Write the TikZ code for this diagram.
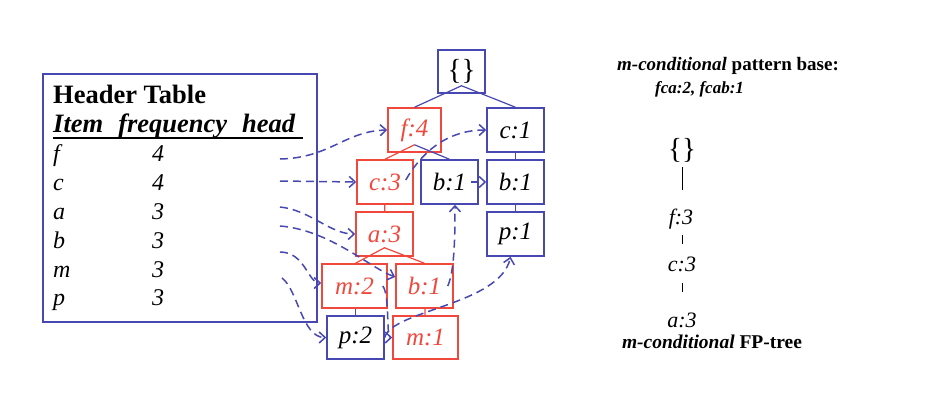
\documentclass[tikz,border=0pt]{standalone}
\usepackage{fontspec}
\setmainfont{Liberation Serif}
\usepackage{tikz}
\usetikzlibrary{arrows.meta}

\definecolor{treeblue}{RGB}{72,72,178}
\definecolor{treered}{RGB}{240,72,60}
\tikzset{
  bluebox/.style={draw=treeblue, line width=1.5pt, minimum width=57pt, minimum height=44pt,
    inner sep=0pt, font=\fontsize{25}{30}\selectfont\itshape},
  redbox/.style={bluebox, draw=treered, text=treered},
  blueedge/.style={treeblue, line width=1.2pt},
  rededge/.style={treered, line width=1.2pt},
  link/.style={-{Straight Barb[length=6pt, width=11pt]}, treeblue, line width=1.5pt, dash pattern=on 8pt off 5pt},
  rowtxt/.style={anchor=base west, inner sep=0pt, font=\fontsize{24}{28}\selectfont\itshape},
  condtxt/.style={anchor=base, inner sep=0pt, font=\fontsize{22}{26}\selectfont\itshape},
}

\begin{document}
\begin{tikzpicture}[x=1pt, y=-1pt]
        \useasboundingbox (0,0) rectangle (930,408);

        % 头表
        \node[draw=treeblue, line width=1.5pt, minimum width=274pt, minimum height=248pt] (htab) at (180,198) {};
        \node[anchor=base west, inner sep=0pt, font=\fontsize{26.5}{30}\selectfont\bfseries] (htitle) at (53,103) {Header Table};
        \node[anchor=base west, inner sep=0pt, font=\fontsize{26.5}{30}\selectfont\bfseries\itshape] (hcols) at (53,132) {Item\hspace{15pt}frequency\hspace{15pt}head};
        \draw[line width=2pt] ([yshift=-5.5pt]hcols.base west) -- ([yshift=-5.5pt, xshift=8pt]hcols.base east);
        \node[rowtxt] (it-f) at (53,161.5) {f};
        \node[rowtxt] (it-c) at (53,190.5) {c};
        \node[rowtxt] (it-a) at (53,219) {a};
        \node[rowtxt] (it-b) at (53,248) {b};
        \node[rowtxt] (it-m) at (53,277) {m};
        \node[rowtxt] (it-p) at (53,305.5) {p};
        \node[rowtxt] (fr-f) at (152,161.5) {4};
        \node[rowtxt] (fr-c) at (152,190.5) {4};
        \node[rowtxt] (fr-a) at (152,219) {3};
        \node[rowtxt] (fr-b) at (152,248) {3};
        \node[rowtxt] (fr-m) at (152,277) {3};
        \node[rowtxt] (fr-p) at (152,305.5) {3};
        \coordinate (hd-f) at (280,159);
        \coordinate (hd-c) at (280,181);
        \coordinate (hd-a) at (280,207);
        \coordinate (hd-b) at (280,226);
        \coordinate (hd-m) at (280,252);
        \coordinate (hd-p) at (282,278);

        % FP树
        \node[bluebox, minimum width=47pt, minimum height=43pt, font=\fontsize{29}{32}\selectfont] (root) at (461.5,71.5) {\{\}};
        \node[redbox, minimum width=53pt] (f4) at (414.5,130) {f:4};
        \node[bluebox] (c1) at (515.5,130) {c:1};
        \node[redbox, minimum width=56pt] (c3) at (385,182) {c:3};
        \node[bluebox] (b1) at (449.5,182) {b:1};
        \node[bluebox] (b1r) at (515.5,182) {b:1};
        \node[redbox] (a3) at (384.5,234) {a:3};
        \node[bluebox] (p1) at (515.5,234) {p:1};
        \node[redbox, minimum width=65pt] (m2) at (354.5,286) {m:2};
        \node[redbox] (b1red) at (424.5,286) {b:1};
        \node[bluebox, minimum height=43pt] (p2) at (355.5,337.5) {p:2};
        \node[redbox, minimum width=65pt, minimum height=43pt] (m1) at (425.5,337.5) {m:1};

        \draw[blueedge] (f4.north) -- ([yshift=8pt]root.south) -- (c1.north);
        \draw[rededge] (c3.north) -- ([yshift=8pt]f4.south);
        \draw[blueedge] ([yshift=8pt]f4.south) -- (b1.north);
        \draw[blueedge] (c1) -- (b1r);
        \draw[blueedge] (b1r) -- (p1);
        \draw[rededge] (c3) -- (a3);
        \draw[rededge] (m2.north -| p2.north) -- ([yshift=9pt]a3.south) -- (b1red.north);
        \draw[blueedge] (p2.north) -- (p2.north |- m2.south);
        \draw[rededge] (b1red) -- (m1);

        % 节点链
        \draw[link] (hd-f) .. controls (330,158) and (345,131) .. (f4.west);
        \draw[link] (hd-c) -- (c3.west);
        \draw[link] (hd-a) .. controls (310,210) and (330,234) .. (a3.west);
        \draw[link] (hd-b) .. controls (330,230) and (370,268) .. ([yshift=9pt]b1red.west);
        \draw[link] (hd-m) .. controls (305,252) and (308,283) .. ([yshift=3pt]m2.west);
        \draw[link] (hd-p) .. controls (298,290) and (302,337.5) .. (p2.west);
        \draw[link] ([xshift=-8pt, yshift=2pt]c3.east) .. controls (420,155) and (445,130) .. (c1.west);
        \draw[link] ([xshift=-8pt]b1.east) -- (b1r.west);
        \draw[link] ([xshift=-6pt]b1red.east) .. controls (455,270) and (455,230) .. ([xshift=5.5pt]b1.south);
        \draw[link] ([xshift=-5pt]m2.east) .. controls (390,295) and (386,337.5) .. (m1.west);
        \draw[link] (p2.east) .. controls (392,310) and (500,305) .. ([xshift=-5pt]p1.south);

        % 条件模式基与条件FP树
        \node[anchor=base, inner sep=0pt, font=\fontsize{19}{22}\selectfont\bfseries] (pbase) at (728,70) {\textit{m-conditional} pattern base:};
        \node[anchor=base west, inner sep=0pt, font=\fontsize{17}{22}\selectfont\bfseries\itshape] (pset) at (655,93) {fca:2, fcab:1};
        \node[inner sep=0pt, font=\fontsize{29}{32}\selectfont] (cnull) at (682,150) {\{\}};
        \node[condtxt] (cf) at (681,224) {f:3};
        \node[condtxt] (cc) at (682,271) {c:3};
        \node[condtxt] (ca) at (682,327) {a:3};
        \node[anchor=base, inner sep=0pt, font=\fontsize{19.5}{22}\selectfont\bfseries] (ctitle) at (712,348) {\textit{m-conditional} FP-tree};
        \draw (cnull.south |- 0,167) -- (cnull.south |- 0,190);
        \draw[shorten <=6.5pt, shorten >=12pt] (cc.north |- cf.south) -- (cc.north);
        \draw[shorten <=11pt, shorten >=20pt] (cc.south) -- (cc.south |- ca.north);
\end{tikzpicture}
\end{document}
